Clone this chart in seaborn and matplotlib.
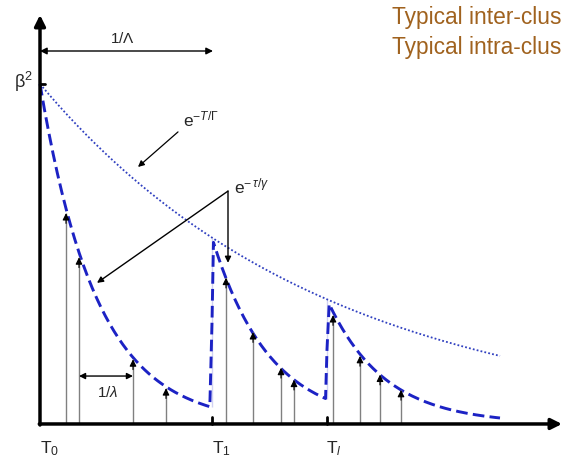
import numpy as np
import pandas as pd
import matplotlib
matplotlib.use('Agg')
import matplotlib.pyplot as plt
import seaborn as sns

sns.set_style('white')
plt.rcParams['font.family'] = ['Liberation Sans', 'DejaVu Sans']
plt.rcParams['mathtext.fontset'] = 'custom'
plt.rcParams['mathtext.rm'] = 'Liberation Sans'
plt.rcParams['mathtext.it'] = 'Liberation Sans:italic'
plt.rcParams['mathtext.sf'] = 'Liberation Sans'

# cluster arrival times and labels
cluster_times = [0.0, 17.2, 28.7]
cluster_labels = [r'$\mathrm{T}_0$', r'$\mathrm{T}_1$', r'$\mathrm{T}_{\mathit{l}}$']
cluster_ends = [17.2, 28.7, 46.0]
Gamma = 28.6   # cluster decay
gamma = 5.7    # ray decay
beta2 = 1.0

# ray arrival times and amplitudes
ray_times = [2.6, 3.9, 9.3, 12.6, 18.6, 21.3, 24.1, 25.4, 29.3, 32.0, 34.0, 36.1]
ray_amps = [0.62, 0.49, 0.19, 0.105, 0.43, 0.27, 0.165, 0.13, 0.32, 0.20, 0.145, 0.10]

legend_lines = ['Typical inter-clus', 'Typical intra-clus']

blue = '#1c22c4'

# envelope e^{-T/Gamma}
t_env = np.linspace(0, 46.0, 200)
env = pd.DataFrame({'t': t_env, 'p': beta2 * np.exp(-t_env / Gamma)})

# cluster decays, joined with vertical jumps
rows = []
for T, end in zip(cluster_times, cluster_ends):
    a0 = beta2 * np.exp(-T / Gamma)
    for tt in np.linspace(T, end, 80):
        rows.append((tt, a0 * np.exp(-(tt - T) / gamma)))
clus = pd.DataFrame(rows, columns=['t', 'p'])

fig = plt.figure(figsize=(5.65, 4.59), dpi=100)
ax = fig.add_axes([0, 0, 1, 1])
ax.set_xlim(-4.0, 52.5)
ax.set_ylim(-0.103, 1.247)
ax.axis('off')

sns.lineplot(data=env, x='t', y='p', ax=ax, color='#3040c0', lw=1.3,
             linestyle=(0, (1, 1.2)), sort=False)
sns.lineplot(data=clus, x='t', y='p', ax=ax, color=blue, lw=2.1,
             linestyle=(0, (4, 1.8)), sort=False)

# rays
ax.vlines(ray_times, 0, ray_amps, color='#808080', lw=1.0)
for t, a in zip(ray_times, ray_amps):
    ax.annotate('', xy=(t, a), xytext=(t, a - 0.03),
                arrowprops=dict(arrowstyle='-|>', color='black', lw=0.8,
                                mutation_scale=10, shrinkA=0, shrinkB=0))

# axes arrows
ax.annotate('', xy=(0, 1.203), xytext=(0, -0.003),
            arrowprops=dict(arrowstyle='-|>', color='black', lw=2.5,
                            mutation_scale=16, shrinkA=0, shrinkB=0))
ax.annotate('', xy=(52.2, 0), xytext=(-0.07, 0),
            arrowprops=dict(arrowstyle='-|>', color='black', lw=2.5,
                            mutation_scale=16, shrinkA=0, shrinkB=0))

# beta^2 tick and label
ax.plot([0, 0.5], [beta2, beta2], color='black', lw=2)
ax.text(-1.7, beta2 + 0.005, r'$\mathrm{\beta}^2$', fontsize=13, ha='center', va='center')

# cluster ticks and labels
for T, lab in zip(cluster_times, cluster_labels):
    if T > 0:
        ax.plot([T, T], [0, 0.022], color='black', lw=2)
    ax.text(T - 0.05, -0.045, lab, fontsize=12.5, ha='left', va='top')

# 1/Lambda
ax.annotate('', xy=(17.3, 1.097), xytext=(0, 1.097),
            arrowprops=dict(arrowstyle='<|-|>', color='black', lw=1.0,
                            mutation_scale=10, shrinkA=0, shrinkB=0))
ax.text(8.2, 1.135, r'1/$\Lambda$', fontsize=11, ha='center', va='center')

# 1/lambda
ax.annotate('', xy=(9.3, 0.141), xytext=(3.9, 0.141),
            arrowprops=dict(arrowstyle='<|-|>', color='black', lw=1.0,
                            mutation_scale=9, shrinkA=0, shrinkB=0))
ax.text(6.8, 0.094, r'1/$\lambda$', fontsize=11, ha='center', va='center')

# e^{-T/Gamma}
ax.text(14.3, 0.895, r'$\mathrm{e}^{\mathrm{-}\mathit{T/\Gamma}}$', fontsize=12.5,
        ha='left', va='center')
ax.annotate('', xy=(9.8, 0.756), xytext=(13.8, 0.859),
            arrowprops=dict(arrowstyle='-|>', color='black', lw=0.9,
                            mutation_scale=9, shrinkA=0, shrinkB=0))

# e^{-tau/gamma}
vx, vy = 18.8, 0.685
ax.text(19.4, 0.70, r'$\mathrm{e}^{\mathrm{-}\,\mathit{\tau/\gamma}}$', fontsize=12.5,
        ha='left', va='center')
ax.annotate('', xy=(vx, 0.474), xytext=(vx, vy),
            arrowprops=dict(arrowstyle='-|>', color='black', lw=1.0,
                            mutation_scale=9, shrinkA=0, shrinkB=0))
ax.annotate('', xy=(5.7, 0.415), xytext=(vx, vy),
            arrowprops=dict(arrowstyle='-|>', color='black', lw=1.0,
                            mutation_scale=9, shrinkA=0, shrinkB=0))

# top-right text
for y, s in zip([1.176, 1.088], legend_lines):
    ax.text(35.2, y, s, fontsize=16.4, color='#a0621e', ha='left', va='baseline')

fig.savefig('out.png', dpi=100)
